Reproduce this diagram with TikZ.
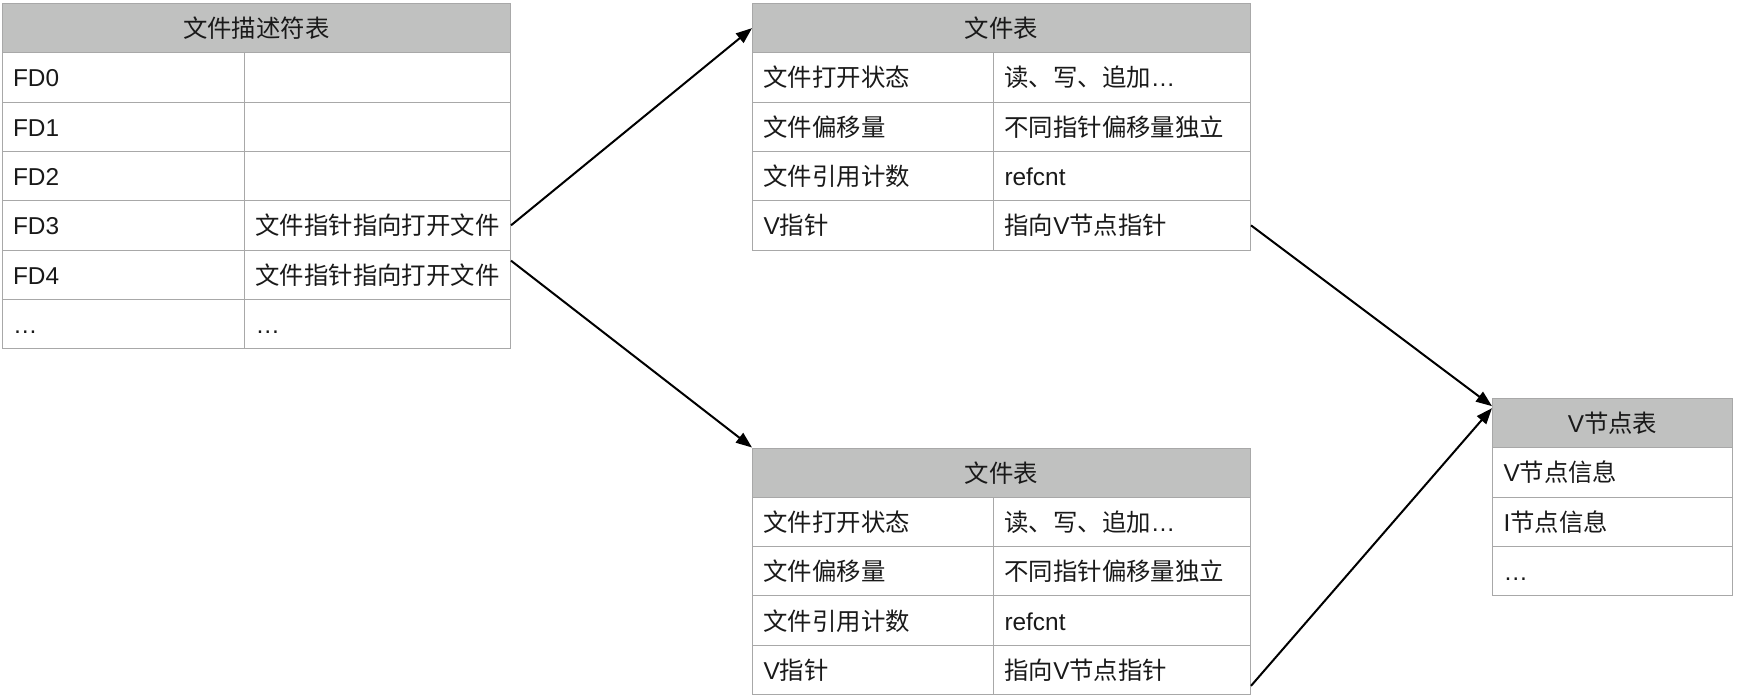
\documentclass[tikz,border=0pt]{standalone}
\usepackage{fontspec}
\setmainfont{Liberation Sans}
\newfontfamily\cjk{Noto Sans CJK SC}
\newcommand\zh[1]{{\cjk #1}}
\usetikzlibrary{arrows.meta}
\definecolor{gridline}{RGB}{168,168,168}
\definecolor{headfill}{RGB}{192,193,192}
\definecolor{ink}{RGB}{25,25,25}
\begin{document}
\begin{tikzpicture}[x=1pt,y=-1pt,
  every node/.style={font=\fontsize{24.4}{28}\selectfont, text=ink},
  cell/.style={draw=gridline, line width=1pt, minimum height=49.3pt,
    inner xsep=11pt, inner ysep=0pt, anchor=north west, align=left,
    text height=24pt, text depth=5pt},
  head/.style={draw=gridline, line width=1pt, fill=headfill, minimum height=49.3pt,
    minimum width=#1, inner sep=0pt, anchor=north west,
    text height=24pt, text depth=5pt},
  link/.style={draw=black, line width=2pt, -{Triangle[length=16pt,width=12pt]}}]
\useasboundingbox (0,0) rectangle (1738,698);

% file descriptor table
\node[head=508.5pt] (fdh) at (1.5,3) {\zh{文件描述符表}};
\node[cell, text width=220.5pt] (fd0k) at (1.5,52.3)  {FD0};
\node[cell, text width=244pt]   (fd0v) at (244,52.3)  {};
\node[cell, text width=220.5pt] (fd1k) at (1.5,101.6) {FD1};
\node[cell, text width=244pt]   (fd1v) at (244,101.6) {};
\node[cell, text width=220.5pt] (fd2k) at (1.5,150.9) {FD2};
\node[cell, text width=244pt]   (fd2v) at (244,150.9) {};
\node[cell, text width=220.5pt] (fd3k) at (1.5,200.2) {FD3};
\node[cell, text width=244pt]   (fd3v) at (244,200.2) {\zh{文件指针指向打开文件}};
\node[cell, text width=220.5pt] (fd4k) at (1.5,249.5) {FD4};
\node[cell, text width=244pt]   (fd4v) at (244,249.5) {\zh{文件指针指向打开文件}};
\node[cell, text width=220.5pt] (fdxk) at (1.5,298.8) {…};
\node[cell, text width=244pt]   (fdxv) at (244,298.8) {…};

% open file table (upper)
\node[head=498pt] (fah) at (752,3) {\zh{文件表}};
\node[cell, text width=219pt] (fa1k) at (752,52.3)  {\zh{文件打开状态}};
\node[cell, text width=235pt] (fa1v) at (993,52.3)  {\zh{读、写、追加}…};
\node[cell, text width=219pt] (fa2k) at (752,101.6) {\zh{文件偏移量}};
\node[cell, text width=235pt] (fa2v) at (993,101.6) {\zh{不同指针偏移量独立}};
\node[cell, text width=219pt] (fa3k) at (752,150.9) {\zh{文件引用计数}};
\node[cell, text width=235pt] (fa3v) at (993,150.9) {refcnt};
\node[cell, text width=219pt] (fa4k) at (752,200.2) {V\zh{指针}};
\node[cell, text width=235pt] (fa4v) at (993,200.2) {\zh{指向}V\zh{节点指针}};

% open file table (lower)
\node[head=498pt] (fbh) at (752,447.5) {\zh{文件表}};
\node[cell, text width=219pt] (fb1k) at (752,496.8) {\zh{文件打开状态}};
\node[cell, text width=235pt] (fb1v) at (993,496.8) {\zh{读、写、追加}…};
\node[cell, text width=219pt] (fb2k) at (752,546.1) {\zh{文件偏移量}};
\node[cell, text width=235pt] (fb2v) at (993,546.1) {\zh{不同指针偏移量独立}};
\node[cell, text width=219pt] (fb3k) at (752,595.4) {\zh{文件引用计数}};
\node[cell, text width=235pt] (fb3v) at (993,595.4) {refcnt};
\node[cell, text width=219pt] (fb4k) at (752,644.7) {V\zh{指针}};
\node[cell, text width=235pt] (fb4v) at (993,644.7) {\zh{指向}V\zh{节点指针}};

% v-node table
\node[head=240pt] (vh) at (1492,398) {V\zh{节点表}};
\node[cell, text width=218pt] (v1) at (1492,447.3) {V\zh{节点信息}};
\node[cell, text width=218pt] (v2) at (1492,496.6) {I\zh{节点信息}};
\node[cell, text width=218pt] (v3) at (1492,545.9) {…};

% pointers between tables
\draw[link] (fd3v.east) -- (fah.west);
\draw[link] ([yshift=14pt]fd4v.east) -- (fbh.north west);
\draw[link] (fa4v.east) -- ([yshift=17pt]vh.west);
\draw[link] ([yshift=-16pt]fb4v.east) -- ([yshift=15pt]vh.west);
\end{tikzpicture}
\end{document}
